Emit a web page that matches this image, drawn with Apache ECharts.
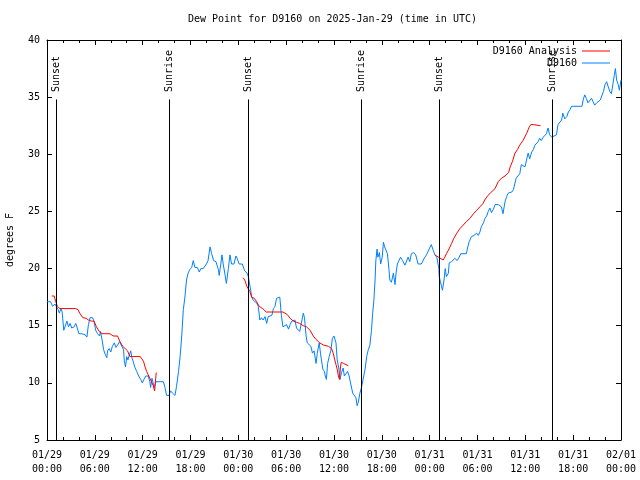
<!DOCTYPE html>
<html>
<head>
<meta charset="utf-8">
<script src="https://cdn.jsdelivr.net/npm/echarts@6/dist/echarts.min.js"></script>
<style>html,body{margin:0;padding:0;background:#fff}#c{width:640px;height:480px}</style>
</head>
<body>
<div id="c"></div>
<script>
// Hours since 2025-01-29 00:00 UTC
const xTickLabels = ['01/29\n00:00','01/29\n06:00','01/29\n12:00','01/29\n18:00','01/30\n00:00','01/30\n06:00','01/30\n12:00','01/30\n18:00','01/31\n00:00','01/31\n06:00','01/31\n12:00','01/31\n18:00','02/01\n00:00'];

const obsHours = [0.0,0.45,0.7,1.0,1.2,1.4,1.55,1.75,1.9,2.1,2.35,2.5,2.7,2.9,3.1,3.4,3.6,3.8,4.0,4.35,4.8,5.0,5.2,5.4,5.7,5.9,6.1,6.35,6.6,6.7,6.9,7.1,7.3,7.5,7.6,7.8,8.0,8.2,8.45,8.65,8.85,9.1,9.35,9.6,9.7,9.85,10.0,10.15,10.3,10.5,10.65,10.8,11.0,11.25,11.5,11.75,11.95,12.15,12.4,12.7,12.9,13.0,13.17,13.35,13.45,13.67,13.8,14.2,14.6,14.8,15.0,15.3,15.5,15.75,16.05,16.25,16.5,16.7,16.9,17.1,17.3,17.5,17.7,17.9,18.15,18.35,18.55,18.85,19.1,19.3,19.6,20.0,20.2,20.45,20.65,20.9,21.2,21.5,21.6,21.8,21.95,22.1,22.3,22.5,22.75,22.95,23.15,23.45,23.7,23.85,24.1,24.5,24.8,25.1,25.25,25.45,25.55,25.67,25.9,26.3,26.5,26.7,26.9,27.1,27.35,27.55,27.75,28.0,28.2,28.4,28.6,28.8,29.0,29.2,29.4,29.6,29.85,30.05,30.3,30.5,30.7,30.9,31.1,31.3,31.5,31.7,31.9,32.15,32.3,32.5,32.65,32.9,33.1,33.3,33.5,33.75,33.9,34.15,34.3,34.6,34.8,34.9,35.05,35.2,35.4,35.6,35.8,36.0,36.25,36.4,36.6,36.75,36.95,37.15,37.3,37.5,37.7,37.9,38.1,38.35,38.55,38.75,38.9,39.05,39.25,39.45,39.65,39.9,40.1,40.3,40.5,40.7,40.85,41.0,41.15,41.25,41.4,41.5,41.7,41.85,42.05,42.2,42.35,42.5,42.7,42.9,43.0,43.2,43.45,43.65,43.8,43.95,44.15,44.35,44.6,44.9,45.1,45.3,45.5,45.7,46.0,46.25,46.55,46.95,47.2,47.4,47.6,47.8,48.0,48.2,48.45,48.65,48.9,49.1,49.15,49.2,49.35,49.5,49.6,49.8,49.95,50.1,50.35,50.45,50.75,50.95,51.15,51.45,51.7,51.9,52.6,52.75,52.95,53.25,53.55,53.9,54.1,54.3,54.5,54.75,54.95,55.15,55.35,55.55,55.75,56.0,56.2,56.4,56.6,56.85,57.0,57.2,57.45,57.65,57.85,58.05,58.3,58.5,58.7,58.85,59.1,59.3,59.5,59.7,59.95,60.15,60.35,60.55,60.8,61.0,61.2,61.4,61.6,61.8,62.0,62.25,62.45,62.65,62.85,63.05,63.3,63.5,63.9,64.1,64.3,64.55,64.7,64.85,64.95,65.2,65.4,65.6,65.8,66.0,67.1,67.25,67.45,67.65,67.85,68.1,68.3,68.5,68.7,68.95,69.15,69.4,69.6,69.8,70.0,70.2,70.4,70.6,70.8,71.0,71.15,71.3,71.45,71.65,71.8,72.0];
const obsValues = [17.1,17.1,16.7,16.9,16.8,16.4,16.1,16.5,16.2,14.6,14.5,15.4,14.9,15.2,14.8,14.9,15.2,14.8,14.3,14.3,14.2,14.0,15.1,15.7,15.7,15.4,14.6,14.3,14.1,14.5,13.8,12.9,12.5,12.2,12.8,13.0,12.7,13.2,13.5,13.1,13.3,13.6,13.5,12.9,11.9,11.4,12.3,12.0,12.4,12.8,12.2,11.9,11.4,11.0,10.6,10.3,10.0,10.3,10.6,10.6,10.1,9.6,10.4,9.9,9.6,10.1,10.1,10.1,10.1,9.6,8.9,8.9,9.3,9.1,8.9,9.7,11.0,12.3,14.1,16.4,17.5,19.0,19.6,19.9,20.1,20.7,20.1,20.1,19.7,20.0,20.0,20.4,20.7,21.9,21.3,20.7,20.6,19.9,19.4,20.4,21.2,20.4,19.6,18.7,20.0,21.2,20.4,20.4,21.1,20.9,20.4,20.4,19.8,19.6,19.3,19.3,18.1,17.5,17.2,17.0,16.7,15.5,15.7,15.5,15.8,15.2,15.8,15.7,15.9,16.5,16.7,17.4,17.5,17.5,15.9,14.9,14.8,15.1,14.7,15.1,15.4,15.5,15.5,14.8,14.7,14.5,15.2,16.1,15.7,14.1,13.5,13.6,13.2,12.6,12.8,11.7,12.6,13.5,12.6,11.2,11.0,10.6,10.3,11.7,12.3,12.8,13.9,14.1,13.5,12.0,11.3,10.3,10.9,11.3,10.6,10.6,11.0,10.6,9.9,9.1,9.0,8.7,8.0,8.3,9.1,9.6,9.7,11.2,12.3,12.9,13.3,14.6,16.1,17.2,19.0,20.7,21.7,21.0,21.4,20.4,21.0,22.3,21.9,21.9,21.3,19.9,19.0,18.8,19.6,18.6,19.7,20.4,20.7,21.0,20.7,20.3,20.3,21.0,20.6,21.3,21.4,21.2,20.4,20.4,20.5,21.0,21.2,21.3,21.8,22.1,21.6,21.2,21.0,21.0,20.0,19.3,18.85,18.4,18.1,19.0,20.0,19.3,19.6,20.5,20.6,20.5,20.9,20.7,21.0,21.3,21.3,21.8,22.35,22.8,22.9,23.1,22.9,23.2,23.7,24.0,24.4,24.6,25.0,25.3,24.9,25.2,25.6,25.5,25.6,25.5,25.4,24.8,25.85,26.3,26.6,26.6,26.7,26.9,27.0,27.9,28.0,28.3,29.1,29.2,28.9,29.5,30.1,29.6,30.2,30.4,30.8,30.7,31.1,31.4,31.2,31.5,31.5,31.8,32.3,31.7,31.5,31.5,31.7,32.6,32.6,33.0,33.6,33.5,33.1,33.3,33.7,33.9,34.2,34.2,34.2,34.75,35.2,34.9,34.5,34.6,34.9,34.6,34.3,34.5,34.6,34.75,34.75,35.5,36.1,36.35,35.9,35.5,35.3,36.2,36.9,37.5,36.5,36.1,35.6,36.5];

// Analysis; null marks a gap
const anaHours = [0.6,0.9,1.1,1.3,1.6,3.6,3.9,4.1,4.5,4.9,5.2,5.6,5.9,6.2,6.55,6.9,7.9,8.3,8.85,9.15,9.5,9.75,10.1,10.4,11.7,12.1,12.3,12.5,12.7,12.9,13.1,13.3,13.5,13.7,
  19.0,
  24.6,24.8,25.1,25.45,25.67,26.0,26.3,26.6,27.05,27.5,29.6,30.1,30.5,30.9,31.3,31.7,32.15,32.55,33.0,33.4,33.75,34.2,34.7,35.3,35.7,35.9,36.1,36.25,36.4,36.55,36.7,36.8,36.9,37.2,37.4,37.8,
  43.0,
  48.65,49.1,49.35,49.7,49.9,50.1,50.35,50.75,51.0,51.4,51.8,52.2,52.6,53.05,53.5,53.9,54.3,54.7,54.9,55.3,55.6,56.2,56.6,57.0,57.45,57.9,58.1,58.4,58.7,59.0,59.3,59.7,60.15,60.5,60.7,61.0,61.2,61.9];
const anaValues = [17.6,17.6,17.1,16.7,16.5,16.5,16.4,16.1,15.7,15.65,15.5,15.4,15.4,14.9,14.5,14.3,14.3,14.1,14.1,13.6,13.2,13.1,12.8,12.3,12.3,11.9,11.4,11.0,10.7,10.6,10.1,9.8,9.3,10.9,
  null,
  19.2,19.0,18.4,18.0,17.5,17.4,17.1,16.7,16.5,16.2,16.2,16.0,15.65,15.4,15.3,15.2,15.0,14.9,14.6,14.1,13.8,13.5,13.3,13.2,13.0,12.6,12.0,11.6,11.2,10.6,10.3,11.3,11.8,11.7,11.6,11.5,
  null,
  21.2,21.0,20.9,20.75,21.0,21.3,21.6,22.2,22.6,23.1,23.5,23.8,24.1,24.4,24.8,25.1,25.4,25.7,26.0,26.4,26.6,27.0,27.6,27.9,28.1,28.4,28.9,29.4,30.1,30.4,30.8,31.2,31.8,32.4,32.6,32.6,32.5,32.5];

const sunHours = [1.22, 15.39, 25.25, 39.45, 49.21, 63.38];
const sunLabels = ['Sunset', 'Sunrise', 'Sunset', 'Sunrise', 'Sunset', 'Sunrise'];
const legendNames = ['D9160 Analysis', 'D9160'];

const FONT = 'DejaVu Sans Mono';
const obsData = obsHours.map((h, i) => [h, obsValues[i]]);
const anaData = anaHours.map((h, i) => [h, anaValues[i] === null ? '-' : anaValues[i]]);

const chart = echarts.init(document.getElementById('c'), null, {renderer: 'canvas'});

const xCommon = {
  type: 'value', min: 0, max: 72, interval: 6,
  axisLine: {show: true, onZero: false, lineStyle: {color: '#000', width: 1}},
  axisTick: {show: true, inside: true, length: 5, lineStyle: {color: '#000'}},
  minorTick: {show: true, splitNumber: 3, length: 3, lineStyle: {color: '#000'}},
  splitLine: {show: false}
};
const yCommon = {
  type: 'value', min: 5, max: 40, interval: 5,
  axisLine: {show: true, onZero: false, lineStyle: {color: '#000', width: 1}},
  axisTick: {show: true, inside: true, length: 5, lineStyle: {color: '#000'}},
  splitLine: {show: false}
};
const legendCommon = {
  show: true, type: 'plain', orient: 'horizontal', align: 'right',
  icon: 'rect', itemWidth: 28, itemHeight: 1, itemGap: 0, padding: 0,
  textStyle: {fontFamily: FONT, fontSize: 10, color: '#000'},
  selectedMode: false
};

chart.setOption({
  animation: false,
  backgroundColor: '#fff',
  textStyle: {fontFamily: FONT},
  title: {
    text: 'Dew Point for D9160 on 2025-Jan-29 (time in UTC)',
    left: 188, top: 14, padding: 0,
    textStyle: {fontFamily: FONT, fontSize: 10, fontWeight: 'normal', color: '#000'}
  },
  grid: {left: 47, right: 19, top: 40, bottom: 40, containLabel: false, outerBoundsMode: 'none'},
  legend: [
    Object.assign({}, legendCommon, {data: [legendNames[0]], top: 46, right: 30}),
    Object.assign({}, legendCommon, {data: [legendNames[1]], top: 58, right: 30})
  ],
  xAxis: [
    Object.assign({}, xCommon, {
      position: 'bottom',
      axisLabel: {margin: 8, fontFamily: FONT, fontSize: 10, color: '#000', lineHeight: 14,
        formatter: v => xTickLabels[Math.round(v / 6)]}
    }),
    Object.assign({}, xCommon, {position: 'top', axisLabel: {show: false}})
  ],
  yAxis: [
    Object.assign({}, yCommon, {
      position: 'left',
      name: 'degrees F', nameLocation: 'middle', nameGap: 32,
      nameTextStyle: {fontFamily: FONT, fontSize: 10, color: '#000'},
      axisLabel: {margin: 7, fontFamily: FONT, fontSize: 10, color: '#000'}
    }),
    Object.assign({}, yCommon, {position: 'right', axisLabel: {show: false}})
  ],
  series: [
    {
      name: legendNames[0], type: 'line', data: anaData, showSymbol: false, symbol: 'none',
      connectNulls: false, lineStyle: {color: '#ff0000', width: 1}, itemStyle: {color: '#ff0000'},
      z: 3
    },
    {
      name: legendNames[1], type: 'line', data: obsData, showSymbol: false, symbol: 'none',
      lineStyle: {color: '#0080ff', width: 1}, itemStyle: {color: '#0080ff'},
      z: 2,
      markLine: {
        silent: true, symbol: ['none', 'none'], animation: false,
        lineStyle: {color: '#000', width: 1, type: 'solid'},
        label: {show: false},
        data: sunHours.map(h => [{coord: [h, 5]}, {coord: [h, 34.8]}])
      }
    },
    {
      name: 'sun', type: 'scatter', symbolSize: 1, itemStyle: {color: 'rgba(0,0,0,0)'}, silent: true,
      data: sunHours.map(h => [h, 35.45]),
      label: {
        show: true, position: 'inside', rotate: 90, align: 'left', verticalAlign: 'middle',
        fontFamily: FONT, fontSize: 10, color: '#000', opacity: 1,
        formatter: p => sunLabels[p.dataIndex]
      },
      z: 4
    }
  ]
});
</script>
</body>
</html>
